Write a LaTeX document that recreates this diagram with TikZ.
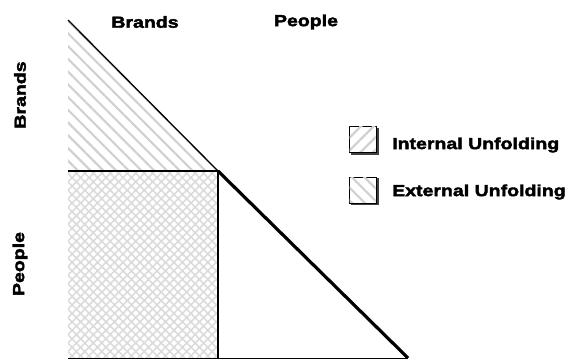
\documentclass[tikz,border=0pt]{standalone}
\usepackage{fontspec}
\setmainfont{Liberation Sans}[BoldFeatures={FakeBold=2.5,FakeStretch=1.22}]
\usetikzlibrary{patterns.meta}
\begin{document}
\begin{tikzpicture}[x=1pt,y=-1pt,
  lbl/.style={font=\fontsize{16}{18}\selectfont\bfseries, inner sep=0pt},
  nwfill/.style={pattern={Lines[angle=-45,distance=9pt,line width=2.2pt]}, pattern color=black!18},
  nefill/.style={pattern={Lines[angle=45,distance=9pt,line width=2.2pt]}, pattern color=black!18},
  xfill/.style={pattern={Hatch[angle=45,distance=6pt,line width=1.6pt]}, pattern color=black!14},
  legbox/.style={draw=black, fill=white, line width=1pt, minimum width=27pt, minimum height=26pt, inner sep=0pt}]
\useasboundingbox (0,0) rectangle (569,360);
\coordinate (top) at (68,20);
\coordinate (mid) at (218,171);
\coordinate (ml) at (68,171);
\coordinate (bl) at (68,358);
\coordinate (bm) at (218,358);
\coordinate (br) at (408,358);
% fills
\fill[nwfill] (top) -- (mid) -- (ml) -- cycle;
\fill[xfill] (ml) rectangle (bm);
% lines
\draw[line width=1.3pt] (top) -- (mid);
\draw[line width=1.6pt] (ml) -- (mid) -- (bm);
\draw[line width=3.2pt] (mid) -- (br);
\draw[line width=1pt] (bl) -- (br);
% axis labels
\node[lbl] (cb) at (145,22) {Brands};
\node[lbl] (cp) at (306,22) {People};
\node[lbl, rotate=90] (rb) at (20,95) {Brands};
\node[lbl, rotate=90] (rp) at (20,264) {People};
% legend
\fill[black!75] (351,128) rectangle (379,155);
\node[legbox] (l1) at (362.5,139) {};
\fill[nefill] ([shift={(1,-1)}]l1.south west) rectangle ([shift={(-1,1)}]l1.north east);
\fill[black!75] (351,178) rectangle (379,205);
\node[legbox] (l2) at (362.5,190) {};
\fill[nwfill] ([shift={(1,-1)}]l2.south west) rectangle ([shift={(-1,1)}]l2.north east);
\node[lbl, anchor=west] (t1) at (392,145) {Internal Unfolding};
\node[lbl, anchor=west] (t2) at (392,192) {External Unfolding};
\end{tikzpicture}
\end{document}
